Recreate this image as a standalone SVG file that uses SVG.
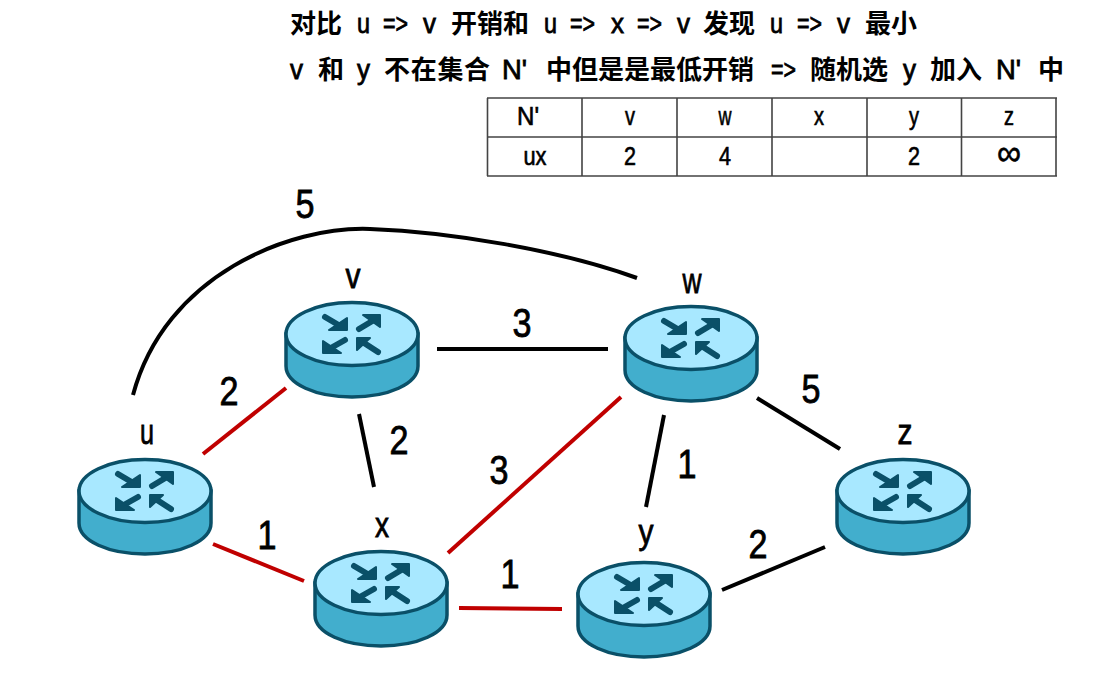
<svg xmlns="http://www.w3.org/2000/svg" width="1106" height="686" viewBox="0 0 1106 686">
<style>
text{font-family:"Noto Sans CJK SC","Liberation Sans",sans-serif;fill:#000}
.h{font-size:26px;font-weight:700;text-anchor:start}
.l{font-family:"Liberation Sans",sans-serif;font-size:28px;text-anchor:start;stroke:#000;stroke-width:.8}
.c{font-family:"Liberation Sans",sans-serif;font-size:25px;text-anchor:middle;stroke:#000;stroke-width:.6}
.n{font-family:"Liberation Sans",sans-serif;font-size:40px;text-anchor:middle;stroke:#000;stroke-width:.8}
.m{font-size:35px}
.t{stroke:#444;stroke-width:1.6;fill:none}
.k{stroke:#000;stroke-width:4;fill:none}
.r{stroke:#c00000;stroke-width:4;fill:none}
.o{stroke:#0a5068;stroke-width:3.500}
.a{stroke:#0a5068;stroke-width:6;stroke-linecap:round;fill:none}
.p{fill:#0a5068;stroke:#0a5068;stroke-width:2;stroke-linejoin:round}
</style>
<defs>
<g id="router">
<path class="o" fill="#42aecd" d="M-66 0V32C-66 50-36 63 0 63S66 50 66 32V0Z"/>
<ellipse class="o" fill="#a8e8ff" cx="0" cy="0" rx="66" ry="31.500"/>
<path class="a" d="M-27-17L-10-7M7-5L22-14M-7 6L-23 15M26 18L9 7"/>
<path class="p" d="M-5-16V-4H-23ZM11-19H28V-7ZM-29 7V19H-11ZM5 4H18L5 16Z"/>
</g>
</defs>
<g id="connectors">
<path class="k" d="M133 395C165 275 290 226 370 229C450 232 560 250 637 278"/>
<path class="k" d="M437 349H608"/>
<path class="k" d="M359 414L374 487"/>
<path class="k" d="M664 415L646 507"/>
<path class="k" d="M757 398L840 449"/>
<path class="k" d="M722 590L825 547"/>
<path class="r" d="M203 454L286 388"/>
<path class="r" d="M213 544L304 581"/>
<path class="r" d="M448 553L621 397"/>
<path class="r" d="M459 608L562 609"/>
</g>
<g id="node-u"><use href="#router" x="145" y="491"/><text class="n m" x="147" y="444" textLength="14" lengthAdjust="spacingAndGlyphs">u</text></g>
<g id="node-v"><use href="#router" x="352" y="334"/><text class="n m" x="353" y="288" textLength="15" lengthAdjust="spacingAndGlyphs">v</text></g>
<g id="node-w"><use href="#router" x="691" y="338"/><text class="n m" x="692" y="293" textLength="19" lengthAdjust="spacingAndGlyphs">w</text></g>
<g id="node-x"><use href="#router" x="381" y="583"/><text class="n m" x="382" y="537" textLength="14" lengthAdjust="spacingAndGlyphs">x</text></g>
<g id="node-y"><use href="#router" x="644" y="594"/><text class="n m" x="646" y="544" textLength="15" lengthAdjust="spacingAndGlyphs">y</text></g>
<g id="node-z"><use href="#router" x="903" y="491"/><text class="n m" x="905" y="444" textLength="15" lengthAdjust="spacingAndGlyphs">z</text></g>
<g id="edge-labels">
<text class="n" x="305" y="218" textLength="19" lengthAdjust="spacingAndGlyphs">5</text>
<text class="n" x="522" y="337" textLength="19" lengthAdjust="spacingAndGlyphs">3</text>
<text class="n" x="229" y="405" textLength="19" lengthAdjust="spacingAndGlyphs">2</text>
<text class="n" x="399" y="454" textLength="19" lengthAdjust="spacingAndGlyphs">2</text>
<text class="n" x="499" y="484" textLength="19" lengthAdjust="spacingAndGlyphs">3</text>
<text class="n" x="267" y="549" textLength="19" lengthAdjust="spacingAndGlyphs">1</text>
<text class="n" x="510" y="588" textLength="19" lengthAdjust="spacingAndGlyphs">1</text>
<text class="n" x="811" y="403" textLength="19" lengthAdjust="spacingAndGlyphs">5</text>
<text class="n" x="687" y="478" textLength="19" lengthAdjust="spacingAndGlyphs">1</text>
<text class="n" x="758" y="558" textLength="19" lengthAdjust="spacingAndGlyphs">2</text>
</g>
<g id="table">
<path class="t" d="M487 98H1057M487 137H1057M487 176H1057M487.500 98V176M582 98V176M677 98V176M772 98V176M867 98V176M961.500 98V176M1056 98V176"/>
<text class="c" x="528" y="125" textLength="22" lengthAdjust="spacingAndGlyphs">N'</text>
<text class="c" x="630" y="125" textLength="10" lengthAdjust="spacingAndGlyphs">v</text>
<text class="c" x="725" y="125" textLength="13" lengthAdjust="spacingAndGlyphs">w</text>
<text class="c" x="819" y="125" textLength="10" lengthAdjust="spacingAndGlyphs">x</text>
<text class="c" x="914" y="125" textLength="10" lengthAdjust="spacingAndGlyphs">y</text>
<text class="c" x="1009" y="125" textLength="10" lengthAdjust="spacingAndGlyphs">z</text>
<text class="c" x="535" y="165" textLength="23" lengthAdjust="spacingAndGlyphs">ux</text>
<text class="c" x="630" y="165" textLength="12" lengthAdjust="spacingAndGlyphs">2</text>
<text class="c" x="725" y="165" textLength="12" lengthAdjust="spacingAndGlyphs">4</text>
<text class="c" x="914" y="165" textLength="12" lengthAdjust="spacingAndGlyphs">2</text>
<text class="c" x="1009" y="165" style="font-size:36px" textLength="24" lengthAdjust="spacingAndGlyphs">∞</text>
</g>
<g id="heading">
<text class="h" x="290" y="33">对比</text>
<text class="l" x="357" y="33" textLength="13" lengthAdjust="spacingAndGlyphs">u</text><text class="l" x="383" y="33" textLength="25" lengthAdjust="spacingAndGlyphs">=&gt;</text><text class="l" x="423" y="33" textLength="13" lengthAdjust="spacingAndGlyphs">v</text>
<text class="h" x="451" y="33">开销和</text>
<text class="l" x="544" y="33" textLength="13" lengthAdjust="spacingAndGlyphs">u</text><text class="l" x="570" y="33" textLength="25" lengthAdjust="spacingAndGlyphs">=&gt;</text><text class="l" x="611" y="33" textLength="13" lengthAdjust="spacingAndGlyphs">x</text><text class="l" x="637" y="33" textLength="25" lengthAdjust="spacingAndGlyphs">=&gt;</text><text class="l" x="677" y="33" textLength="13" lengthAdjust="spacingAndGlyphs">v</text>
<text class="h" x="703" y="33">发现</text>
<text class="l" x="770" y="33" textLength="13" lengthAdjust="spacingAndGlyphs">u</text><text class="l" x="797" y="33" textLength="25" lengthAdjust="spacingAndGlyphs">=&gt;</text><text class="l" x="837" y="33" textLength="13" lengthAdjust="spacingAndGlyphs">v</text>
<text class="h" x="865" y="33">最小</text>
<text class="l" x="290" y="79" textLength="13" lengthAdjust="spacingAndGlyphs">v</text>
<text class="h" x="318" y="79">和</text>
<text class="l" x="357" y="79" textLength="13" lengthAdjust="spacingAndGlyphs">y</text>
<text class="h" x="384" y="79" letter-spacing=".7">不在集合</text>
<text class="l" x="502" y="79" textLength="25" lengthAdjust="spacingAndGlyphs">N'</text>
<text class="h" x="546" y="79">中但是是最低开销</text>
<text class="l" x="771" y="79" textLength="25" lengthAdjust="spacingAndGlyphs">=&gt;</text>
<text class="h" x="810" y="79">随机选</text>
<text class="l" x="903" y="79" textLength="13" lengthAdjust="spacingAndGlyphs">y</text>
<text class="h" x="930" y="79">加入</text>
<text class="l" x="996" y="79" textLength="25" lengthAdjust="spacingAndGlyphs">N'</text>
<text class="h" x="1038" y="79">中</text>
</g>
</svg>
